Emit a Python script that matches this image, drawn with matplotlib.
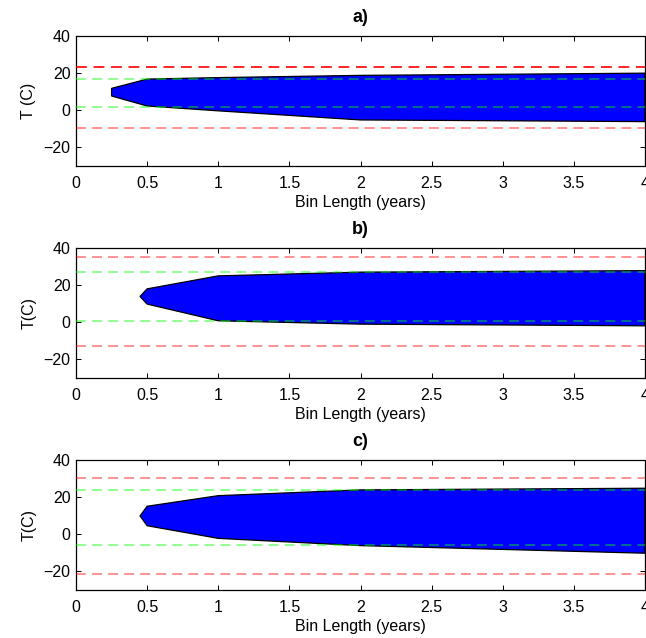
import numpy as np
import matplotlib
matplotlib.use("Agg")
import matplotlib.pyplot as plt

plt.rcParams["font.family"] = ["Liberation Sans", "DejaVu Sans"]
plt.rcParams["font.size"] = 11.5

# -------------------------------------
# Data
# -------------------------------------
panel_titles = ["a)", "b)", "c)"]
y_labels = ["T (C)", "T(C)", "T(C)"]

# envelope of the spread: bin length vs. upper / lower temperature
bins_a = [0.25, 0.5, 1.0, 2.0, 4.0]
upper_a = [11.8, 16.8, 17.6, 18.8, 20.0]
lower_a = [7.7, 2.3, -0.3, -5.2, -6.1]

bins_b = [0.45, 0.5, 1.0, 2.0, 4.0]
upper_b = [13.9, 18.0, 25.0, 27.0, 27.8]
lower_b = [13.9, 9.8, 0.8, -1.0, -1.9]

bins_c = [0.45, 0.5, 1.0, 2.0, 4.0]
upper_c = [9.9, 15.1, 20.8, 23.9, 24.8]
lower_c = [9.9, 4.6, -2.2, -6.1, -10.2]

# reference levels: (red upper, green upper, green lower, red lower)
levels_a = [23.2, 16.9, 1.8, -9.4]
levels_b = [34.9, 27.0, 0.8, -12.7]
levels_c = [30.1, 23.7, -5.8, -21.5]

panels = [
    (bins_a, upper_a, lower_a, levels_a),
    (bins_b, upper_b, lower_b, levels_b),
    (bins_c, upper_c, lower_c, levels_c),
]

# -------------------------------------
# Figure layout (pixel-matched)
# -------------------------------------
W, H = 646, 638
fig = plt.figure(figsize=(W / 100, H / 100), dpi=100)
ax_left, ax_right = 76, 645
ax_tops = [36, 248, 460]
ax_h = 130

dash = (0, (6.5, 4.0))

for i, (bins, up, lo, lev) in enumerate(panels):
    top = ax_tops[i]
    ax = fig.add_axes([ax_left / W, 1 - (top + ax_h) / H,
                       (ax_right - ax_left) / W, ax_h / H])

    xs = list(bins) + list(bins[::-1])
    ys = list(up) + list(lo[::-1])
    ax.fill(xs, ys, facecolor="#0000ff", edgecolor="black", linewidth=0.9, zorder=2)

    # panel a has a fully saturated upper red line, the rest are faded
    if i == 0:
        ax.axhline(lev[0], color="#ff0000", linestyle=dash, linewidth=1.2, zorder=3)
    else:
        ax.axhline(lev[0], color="#ff0000", alpha=0.55, linestyle=dash, linewidth=1.1, zorder=3)
    ax.axhline(lev[1], color="#00ff00", alpha=0.55, linestyle=dash, linewidth=1.1, zorder=3)
    ax.axhline(lev[2], color="#00ff00", alpha=0.55, linestyle=dash, linewidth=1.1, zorder=3)
    ax.axhline(lev[3], color="#ff0000", alpha=0.55, linestyle=dash, linewidth=1.1, zorder=3)

    ax.set_xlim(0, 4)
    ax.set_ylim(-30, 40)
    ax.set_xticks(np.arange(0, 4.01, 0.5))
    ax.set_xticklabels(["0", "0.5", "1", "1.5", "2", "2.5", "3", "3.5", "4"])
    ax.set_yticks([-20, 0, 20, 40])
    ax.set_yticklabels(["\u221220", "0", "20", "40"])
    ax.tick_params(direction="in", top=True, right=True, length=3.5, width=0.7, labelsize=11.5)
    ax.tick_params(axis="x", pad=7)
    ax.tick_params(axis="y", pad=4)
    for sp in ax.spines.values():
        sp.set_linewidth(0.9)

    ax.set_xlabel("Bin Length (years)", fontsize=11.5, labelpad=3)
    ax.set_ylabel(y_labels[i], fontsize=11.5, labelpad=5)
    ax.set_title(panel_titles[i], fontsize=13, fontweight="bold", pad=10)

fig.savefig("out.png", dpi=100)
